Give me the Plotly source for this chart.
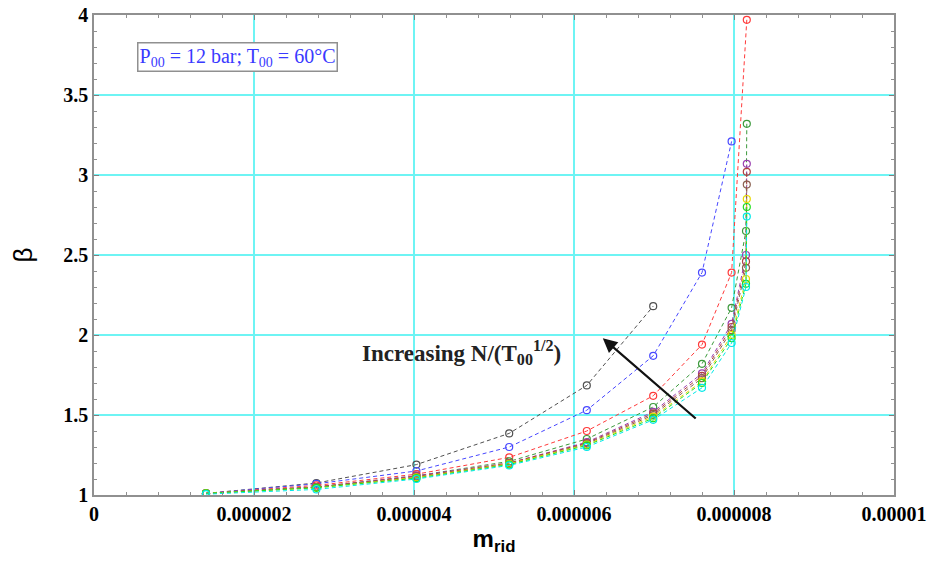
import plotly.graph_objects as go

# mass flow points (m_rid)
m_short = [1.4e-6, 2.78e-6, 4.03e-6, 5.19e-6, 6.16e-6, 6.99e-6]
m_blue = [1.4e-6, 2.78e-6, 4.03e-6, 5.19e-6, 6.16e-6, 6.99e-6, 7.6e-6, 7.97e-6]
m_red = [1.4e-6, 2.78e-6, 4.03e-6, 5.19e-6, 6.16e-6, 6.99e-6, 7.6e-6, 7.97e-6, 8.16e-6]
m_full = [1.4e-6, 2.78e-6, 4.03e-6, 5.19e-6, 6.16e-6, 6.99e-6, 7.6e-6, 7.97e-6, 8.15e-6, 8.16e-6]

beta_black = [1.01, 1.075, 1.19, 1.385, 1.685, 2.18]
beta_blue = [1.01, 1.07, 1.15, 1.30, 1.53, 1.87, 2.39, 3.21]
beta_red = [1.01, 1.06, 1.13, 1.235, 1.40, 1.62, 1.94, 2.39, 3.97]
beta_green = [1.01, 1.05, 1.12, 1.21, 1.35, 1.55, 1.82, 2.17, 2.65, 3.32]
beta_purple = [1.01, 1.05, 1.12, 1.20, 1.33, 1.52, 1.76, 2.07, 2.50, 3.07]
beta_maroon = [1.01, 1.05, 1.115, 1.20, 1.325, 1.51, 1.745, 2.05, 2.46, 3.02]
beta_brown = [1.01, 1.05, 1.11, 1.195, 1.32, 1.50, 1.73, 2.03, 2.42, 2.94]
beta_yellow = [1.01, 1.045, 1.11, 1.195, 1.315, 1.49, 1.71, 2.00, 2.35, 2.85]
beta_lime = [1.01, 1.045, 1.105, 1.19, 1.31, 1.48, 1.70, 1.98, 2.32, 2.80]
beta_cyan = [1.005, 1.035, 1.10, 1.185, 1.30, 1.47, 1.67, 1.95, 2.30, 2.74]

series = [
    (m_short, beta_black, "#505050"),
    (m_blue, beta_blue, "#4848ff"),
    (m_red, beta_red, "#ff3a3a"),
    (m_full, beta_green, "#3c9a3c"),
    (m_full, beta_purple, "#9a40b0"),
    (m_full, beta_maroon, "#b04040"),
    (m_full, beta_brown, "#8a6050"),
    (m_full, beta_yellow, "#e8d800"),
    (m_full, beta_lime, "#20e020"),
    (m_full, beta_cyan, "#00e8e8"),
]

x_ticks = [0, 0.000002, 0.000004, 0.000006, 0.000008, 0.00001]
x_tick_labels = ["0", "0.000002", "0.000004", "0.000006", "0.000008", "0.00001"]
y_ticks = [1, 1.5, 2, 2.5, 3, 3.5, 4]
y_tick_labels = ["1", "1.5", "2", "2.5", "3", "3.5", "4"]

fig = go.Figure()
for xs, ys, col in series:
    fig.add_trace(go.Scatter(
        x=xs, y=ys, mode="lines+markers",
        line=dict(color=col, width=1, dash="4px,3px"),
        marker=dict(symbol="circle-open", size=7, color=col, line=dict(width=1.2, color=col)),
        showlegend=False,
    ))

serif = "Liberation Serif, Times New Roman, serif"
axis_common = dict(
    showline=True, linecolor="#909090", linewidth=1.5, mirror="ticks",
    ticks="inside", ticklen=5, tickcolor="#808080",
    showgrid=True, gridcolor="#6ef4f4", gridwidth=1.5,
    zeroline=False, automargin=False, ticklabeloverflow="allow",
    tickfont=dict(family=serif, size=20, color="black", weight="bold"),
)

fig.update_layout(
    width=936, height=563,
    margin=dict(l=86, r=50, t=7, b=76),
    paper_bgcolor="white", plot_bgcolor="white",
    xaxis=dict(range=[0, 0.00001], tickvals=x_ticks, ticktext=x_tick_labels,
               minor=dict(ticks="inside", ticklen=3, tickcolor="#909090", dtick=0.0000004,
                          showgrid=False),
               title=dict(text="<b>m<sub>rid</sub></b>", font=dict(family="Liberation Sans, Arial", size=24, color="black"), standoff=6),
               **axis_common),
    yaxis=dict(range=[1, 4], tickvals=y_ticks, ticktext=y_tick_labels,
               minor=dict(ticks="inside", ticklen=3, tickcolor="#909090", dtick=0.1,
                          showgrid=False),
               title=dict(text="β", font=dict(family="Liberation Sans, Arial", size=26, color="black"), standoff=30),
               **axis_common),
)

fig.add_annotation(
    x=0.054, y=0.944, xref="paper", yref="paper", xanchor="left", yanchor="top",
    text="P<sub>00</sub> = 12 bar; T<sub>00</sub> = 60°C",
    showarrow=False, font=dict(family=serif, size=20, color="#3a3aff"),
    bordercolor="#909090", borderwidth=1.5, borderpad=1, bgcolor="white",
)

fig.add_annotation(
    x=4.59e-6, y=1.89, xref="x", yref="y",
    text="<b>Increasing N/(T<sub>00</sub><sup>1/2</sup>)</b>",
    showarrow=False, font=dict(family=serif, size=23, color="#222222"),
)

fig.add_annotation(
    x=6.36e-6, y=1.98, ax=7.54e-6, ay=1.47, xref="x", yref="y", axref="x", ayref="y",
    text="", showarrow=True, arrowhead=2, arrowsize=1.3, arrowwidth=2.2, arrowcolor="#111111",
)

fig.write_html("out.html")
